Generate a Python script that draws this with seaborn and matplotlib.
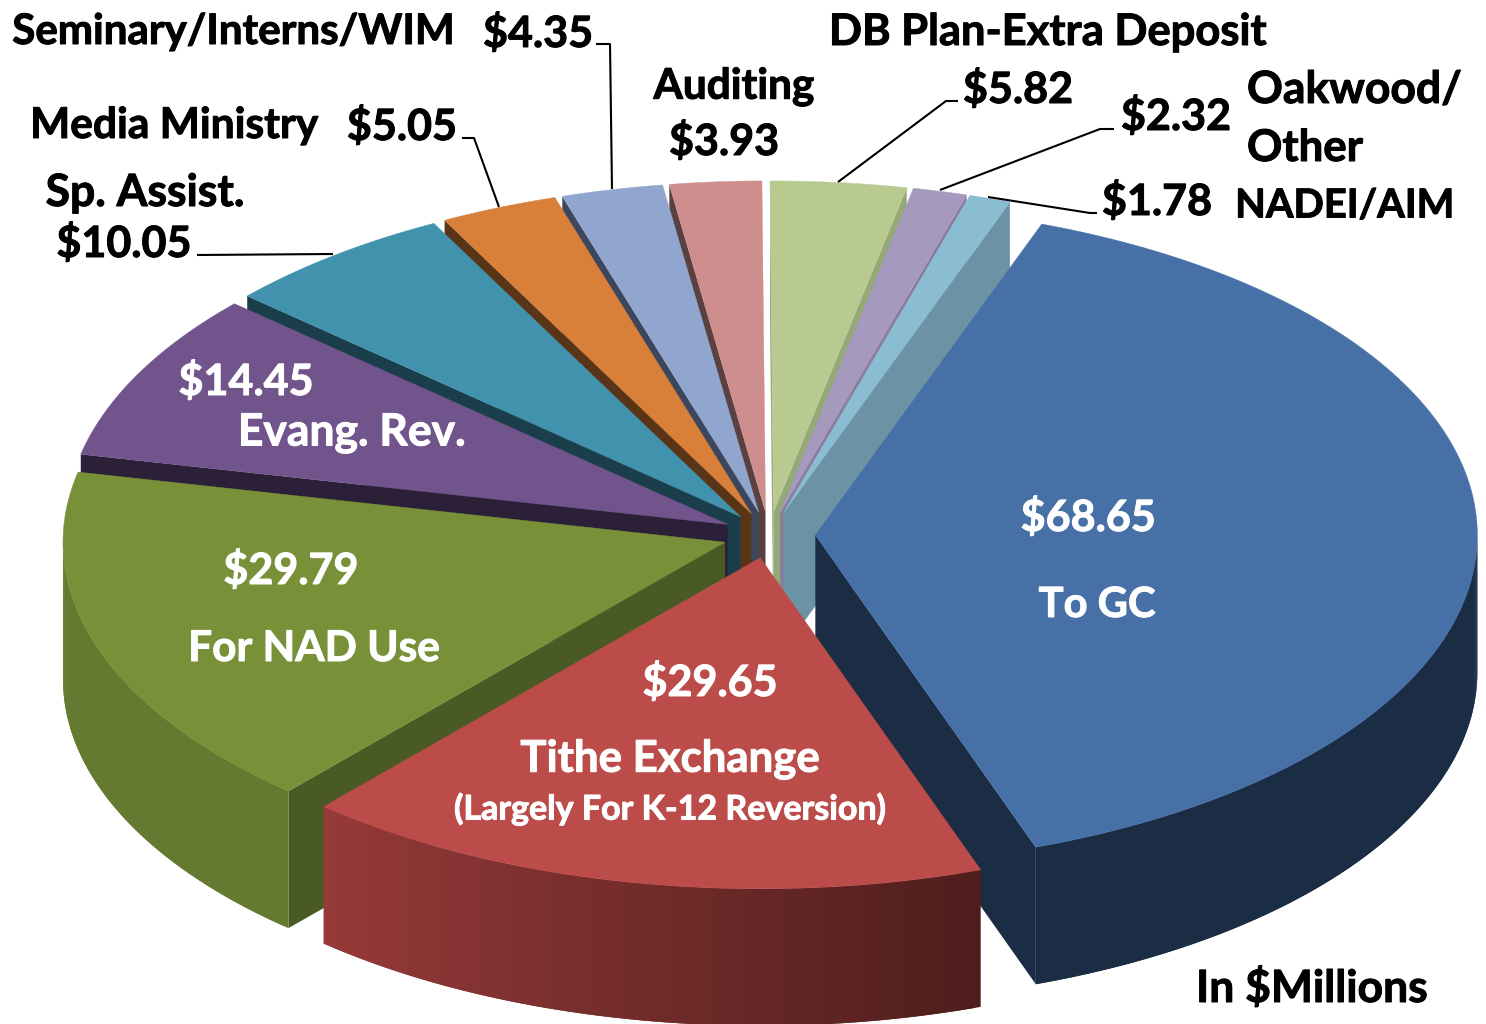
import numpy as np
import seaborn as sns
from matplotlib import pyplot as plt
from matplotlib import patheffects as pe

# slices, clockwise from the big blue one
categories = ['To GC', 'Tithe Exchange', 'For NAD Use', 'Evang. Rev.', 'Sp. Assist.', 'Media Ministry',
              'Seminary/Interns/WIM', 'Auditing', 'DB Plan-Extra Deposit', 'Oakwood/Other', 'NADEI/AIM']
values = [68.65, 29.65, 29.79, 14.45, 10.05, 5.05, 4.35, 3.93, 5.82, 2.32, 1.78]

top_colors = ['#4670A6', '#BC4C4A', '#789138', '#71548B', '#4193AD', '#D87F3A',
              '#90A6CF', '#CF8E8E', '#B8CA90', '#A699BE', '#8ABDD2']
face_colors = ['#1B2D45', '#5A2422', '#4A5A24', '#2C2038', '#1B3E4C', '#5A3416',
               '#3C465C', '#5A4040', '#95A878', '#8A7C9E', '#6C93A5']
wall_colors = [('#1B2D45', '#1B2D45'), ('#4E1E1C', '#963A39'), ('#647A30', '#647A30'),
               None, None, None, None, None, None, None, None]

# pie geometry, in pixels
CX, CY = 769, 535
RX, RY = 662, 331
DEPTH = 137
EXPLODE = 0.07
START = 70


def rim(c, a):
    a = np.radians(a)
    return c[0] + RX * np.cos(a), c[1] - RY * np.sin(a)


def draw_slice(ax, i, s, e):
    mid = np.radians((s + e) / 2)
    c = (CX + EXPLODE * RX * np.cos(mid), CY - EXPLODE * RY * np.sin(mid))

    # cut faces, only the ones turned to the viewer
    for a, visible in ((s, np.cos(np.radians(s)) < 0), (e, np.cos(np.radians(e)) > 0)):
        if visible:
            x, y = rim(c, a)
            ax.fill([c[0], x, x, c[0]], [c[1], y, y + DEPTH, c[1] + DEPTH],
                    color=face_colors[i], lw=0)

    # outer wall, split in strips for the shading. each strip runs over the next so no seams show
    lo, hi = max(e, -180), min(s, 0)
    if wall_colors[i] is not None and hi > lo:
        n = int((hi - lo) * 2) + 1
        shades = sns.blend_palette(wall_colors[i], n)
        edges = np.linspace(hi, lo, n + 1)
        for k in range(n):
            t = np.linspace(edges[k], edges[min(k + 2, n)], 8)
            x, y = rim(c, t)
            ax.fill(np.r_[x, x[::-1]], np.r_[y, y[::-1] + DEPTH], color=shades[k], lw=0)

    # top
    t = np.linspace(s, e, 200)
    x, y = rim(c, t)
    ax.fill(np.r_[c[0], x], np.r_[c[1], y], color=top_colors[i], lw=0.3)


def label(ax, s, x, y, color, fs, ha='center'):
    ax.text(x, y, s, color=color, fontsize=fs, ha=ha, va='center',
            path_effects=[pe.withStroke(linewidth=0.7, foreground=color)])


def main():
    sns.set_theme(style='white')
    plt.rcParams['font.family'] = ['Lato', 'DejaVu Sans']
    plt.rcParams['font.weight'] = 'bold'

    fig = plt.figure(figsize=(14.86, 10.24), dpi=100)
    ax = fig.add_axes([0, 0, 1, 1])
    ax.set_xlim(0, 1486)
    ax.set_ylim(1024, 0)
    ax.axis('off')

    bounds = START - np.r_[0, np.cumsum(values)] / np.sum(values) * 360
    mids = (bounds[:-1] + bounds[1:]) / 2
    # back slices first
    for i in np.argsort(-np.sin(np.radians(mids))):
        draw_slice(ax, i, bounds[i], bounds[i + 1])

    # leader lines
    leaders = [[(197, 255), (333, 254)],
               [(462, 138), (474, 138), (499, 207)],
               [(596, 44), (610, 44), (612, 189)],
               [(838, 182), (946, 101), (958, 101)],
               [(940, 190), (1100, 129), (1114, 129)],
               [(988, 197), (1090, 213), (1097, 213)]]
    for line in leaders:
        ax.plot(*zip(*line), color='black', lw=1.5, solid_capstyle='butt')

    black = [('Seminary/Interns/WIM', 234, 32, 30.3), ('$4.35', 538, 33, 31), ('DB Plan-Extra Deposit', 1048, 32, 31.3),
             ('Auditing', 734, 87, 30.5), ('$3.93', 724, 141, 31), ('$5.82', 1018, 89, 31), ('$2.32', 1176, 116, 31),
             ('Media Ministry', 174, 126, 30.6), ('$5.05', 402, 126, 31), ('Sp. Assist.', 145, 193, 32),
             ('$10.05', 124, 243, 31), ('$1.78', 1157, 201, 31), ('NADEI/AIM', 1345, 206, 28.7),
             ('In $Millions', 1312, 988, 32)]
    for s, x, y, fs in black:
        label(ax, s, x, y, 'black', fs)
    label(ax, 'Oakwood/', 1247, 90, 'black', 32, ha='left')
    label(ax, 'Other', 1247, 148, 'black', 31.5, ha='left')

    white = [('$68.65', 1088, 517, 31), ('To GC', 1097, 605, 30), ('$29.65', 710, 682, 31),
             ('Tithe Exchange', 670, 759, 31.5), ('$29.79', 291, 570, 31), ('For NAD Use', 314, 649, 30.5),
             ('$14.45', 246, 381, 31), ('Evang. Rev.', 352, 433, 32)]
    for s, x, y, fs in white:
        label(ax, s, x, y, 'white', fs)
    label(ax, '(Largely For K-12 Reversion)', 670, 809, 'white', 24.5)

    fig.savefig('out.png', dpi=100)


if __name__ == "__main__":
    main()
